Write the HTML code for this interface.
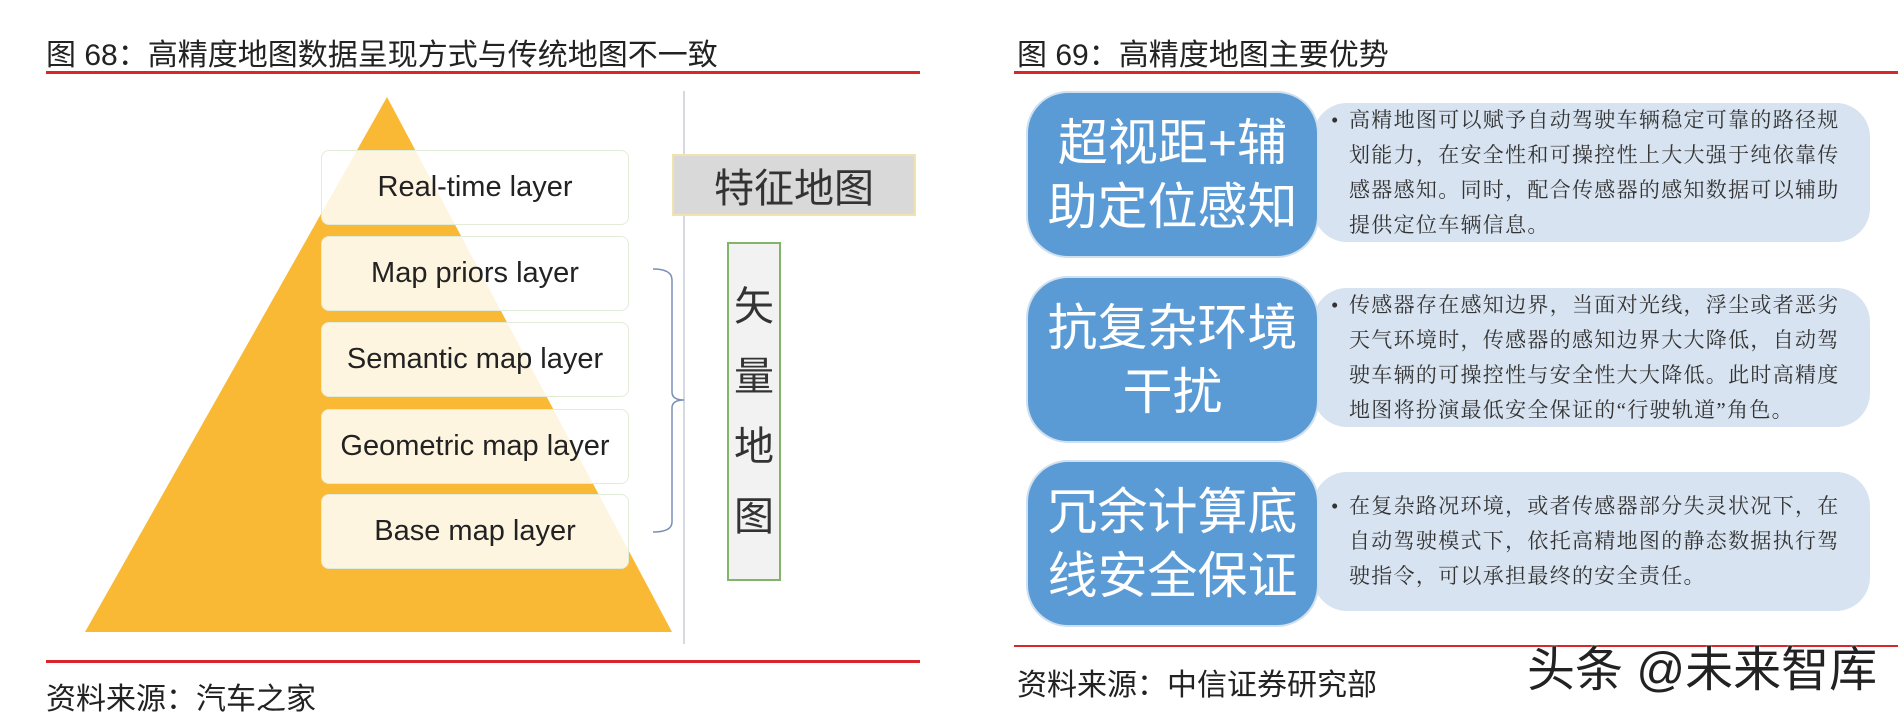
<!DOCTYPE html>
<html><head><meta charset="utf-8"><style>
body{margin:0;width:1898px;height:712px;background:#fff;position:relative;overflow:hidden;font-family:"Liberation Sans","Noto Sans CJK SC",sans-serif;color:#222}
.a{position:absolute}
.t{font-size:30px;white-space:nowrap}
.red{height:3px;background:#d9262b}
.lay{position:absolute;left:321px;width:306px;height:73px;border:1.5px solid #e3ecd8;border-radius:8px;background:rgba(255,255,255,0.85);font-size:29px;display:flex;align-items:center;justify-content:center;color:#222}
.blue{position:absolute;left:1026px;width:293px;height:167px;background:#5b9bd5;border-radius:42px;color:#fff;font-size:50px;line-height:64px;display:flex;align-items:center;justify-content:center;text-align:center;border:2px solid #cfe0f0;box-sizing:border-box}
.lt{position:absolute;left:1313px;width:557px;height:139px;background:#d7e3f0;border-radius:34px;font-family:"Liberation Serif","Noto Serif CJK SC",serif;font-size:21px;line-height:35px;color:#333;box-sizing:border-box;padding-left:36px;padding-right:10px;display:flex;align-items:center;letter-spacing:1.3px}
.lt span{position:relative}
.lt span:before{content:"•";position:absolute;left:-18px;top:0}
</style></head><body>
<div class="a t" style="left:46px;top:30px">图 68：高精度地图数据呈现方式与传统地图不一致</div>
<div class="a red" style="left:46px;top:71px;width:874px"></div>
<svg class="a" style="left:0;top:0" width="950" height="712">
<polygon points="387,97 85,632 672,632" fill="#f9b934"/>
<line x1="684" y1="91" x2="684" y2="644" stroke="#c8cbd8" stroke-width="1.5"/>
<path d="M653,269 Q672,269 672,280 L672,392 Q672,400 684,400 Q672,400 672,408 L672,522 Q672,532 653,532" fill="none" stroke="#7a8fb5" stroke-width="1.5"/>
</svg>
<div class="lay" style="top:150px">Real-time layer</div>
<div class="lay" style="top:236px">Map priors layer</div>
<div class="lay" style="top:322px">Semantic map layer</div>
<div class="lay" style="top:409px">Geometric map layer</div>
<div class="lay" style="top:494px">Base map layer</div>
<div class="a" style="left:672px;top:154px;width:244px;height:62px;background:#d9d9d9;border:2px solid #f0e3b0;box-sizing:border-box;font-size:40px;display:flex;align-items:center;justify-content:center;color:#333">特征地图</div>
<div class="a" style="left:727px;top:242px;width:54px;height:339px;background:#f2f2f2;border:2px solid #82b46a;box-sizing:border-box;font-size:40px;line-height:70px;display:flex;align-items:center;justify-content:center;text-align:center;color:#333">矢<br>量<br>地<br>图</div>
<div class="a red" style="left:46px;top:660px;width:874px"></div>
<div class="a t" style="left:46px;top:674px">资料来源：汽车之家</div>

<div class="a t" style="left:1017px;top:30px">图 69：高精度地图主要优势</div>
<div class="a red" style="left:1014px;top:71px;width:884px"></div>
<div class="lt" style="top:103px"><span>高精地图可以赋予自动驾驶车辆稳定可靠的路径规划能力，在安全性和可操控性上大大强于纯依靠传感器感知。同时，配合传感器的感知数据可以辅助提供定位车辆信息。</span></div>
<div class="lt" style="top:288px"><span>传感器存在感知边界，当面对光线，浮尘或者恶劣天气环境时，传感器的感知边界大大降低，自动驾驶车辆的可操控性与安全性大大降低。此时高精度地图将扮演最低安全保证的“行驶轨道”角色。</span></div>
<div class="lt" style="top:472px"><span>在复杂路况环境，或者传感器部分失灵状况下，在自动驾驶模式下，依托高精地图的静态数据执行驾驶指令，可以承担最终的安全责任。</span></div>
<div class="blue" style="top:91px">超视距+辅<br>助定位感知</div>
<div class="blue" style="top:276px">抗复杂环境<br>干扰</div>
<div class="blue" style="top:460px">冗余计算底<br>线安全保证</div>
<div class="a red" style="left:1014px;top:645px;width:884px;height:2px"></div>
<div class="a t" style="left:1017px;top:660px">资料来源：中信证券研究部</div>
<div class="a" style="left:1527px;top:630px;font-size:48px;color:#222;white-space:nowrap;text-shadow:0 0 2px #fff">头条 @未来智库</div>
</body></html>
